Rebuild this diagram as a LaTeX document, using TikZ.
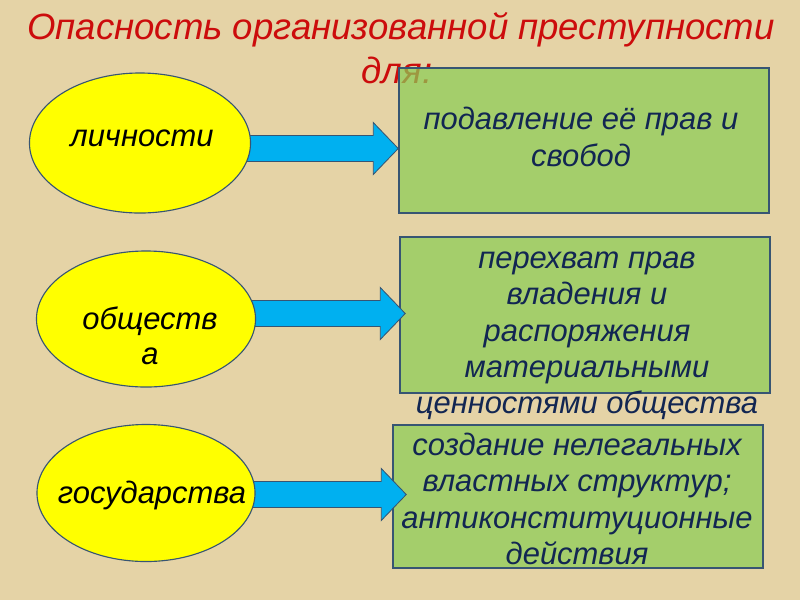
\documentclass[tikz,border=0pt]{standalone}
\usepackage{fontspec}
\setmainfont{Liberation Sans}
\usetikzlibrary{calc,shapes.geometric}
\definecolor{parchment}{RGB}{229,211,166}
\definecolor{titlered}{RGB}{204,12,12}
\definecolor{ovalyellow}{RGB}{255,255,0}
\definecolor{edgeblue}{RGB}{55,85,115}
\definecolor{arrowcyan}{RGB}{0,176,240}
\definecolor{boxgreen}{RGB}{140,205,85}
\definecolor{inknavy}{RGB}{18,38,82}
\pgfdeclarelayer{back}
\pgfdeclarelayer{mid}
\pgfsetlayers{back,mid,main}
% block arrow from an oval to a box: #3 shifts it down, #4 pushes the tip into the box
\newcommand{\blockarrow}[4]{%
  \begin{pgfonlayer}{mid}
  \coordinate (s) at ($(#1.east)+(-10,#3)$);
  \coordinate (t) at ($(#2.west |- s)+(#4,0)$);
  \draw[arrowbody] ($(s)+(0,-13)$) -- ($(t)+(-25,-13)$) -- ($(t)+(-25,-26)$) -- (t)
    -- ($(t)+(-25,26)$) -- ($(t)+(-25,13)$) -- ($(s)+(0,13)$) -- cycle;
  \end{pgfonlayer}}

\begin{document}
\begin{tikzpicture}[x=0.025cm,y=-0.025cm,
  oval/.style={ellipse,draw=edgeblue,fill=ovalyellow,line width=0.8pt,inner sep=0pt},
  ovaltext/.style={align=center,inner sep=0pt,font=\itshape\fontsize{22}{25}\selectfont},
  box/.style={draw=edgeblue,fill=boxgreen,fill opacity=0.72,line width=1pt,inner sep=0pt},
  boxtext/.style={align=center,inner sep=0pt,text=inknavy,
    font=\itshape\fontsize{22}{25.8}\selectfont},
  titletext/.style={inner sep=0pt,text=titlered,font=\itshape\fontsize{26}{30}\selectfont},
  arrowbody/.style={draw=edgeblue,fill=arrowcyan,line width=0.6pt,line join=miter}]
\useasboundingbox (0,0) rectangle (800,600);

\begin{pgfonlayer}{back}
\fill[parchment] (0,0) rectangle (800,600);
% heading, partly covered by the first box
\node[titletext] (title) at (401,30) {Опасность организованной преступности};
\node[titletext] (titledl) at (397,70) {для:};
\node[box,minimum width=9.25cm,minimum height=3.625cm] (harm1) at (584,140.5) {};
\node[box,minimum width=9.25cm,minimum height=3.9cm] (harm2) at (585,315) {};
\node[box,minimum width=9.25cm,minimum height=3.575cm] (harm3) at (578,496.5) {};
\end{pgfonlayer}

% what is threatened
\node[oval,minimum width=5.525cm,minimum height=3.5cm] (person) at (140,143) {};
\node[ovaltext] (persontxt) at (142,138) {личности};
\node[oval,minimum width=5.475cm,minimum height=3.4cm] (society) at (146,319) {};
\node[ovaltext] (societytxt) at (150,335.5) {обществ\\а};
\node[oval,minimum width=5.45cm,minimum height=3.425cm] (state) at (146,493) {};
\node[ovaltext] (statetxt) at (152,495) {государства};

% how it is threatened
\node[boxtext] (harm1txt) at (581,137) {подавление её прав и\\свобод};
\node[boxtext] (harm2txt) at (587,336) {перехват прав\\владения и\\распоряжения\\материальными\\ценностями общества};
\node[boxtext] (harm3txt) at (577,499) {создание нелегальных\\властных структур;\\антиконституционные\\действия};

\blockarrow{person}{harm1}{5.5}{0}
\blockarrow{society}{harm2}{-5.5}{6}
\blockarrow{state}{harm3}{1.5}{14}
\end{tikzpicture}
\end{document}
